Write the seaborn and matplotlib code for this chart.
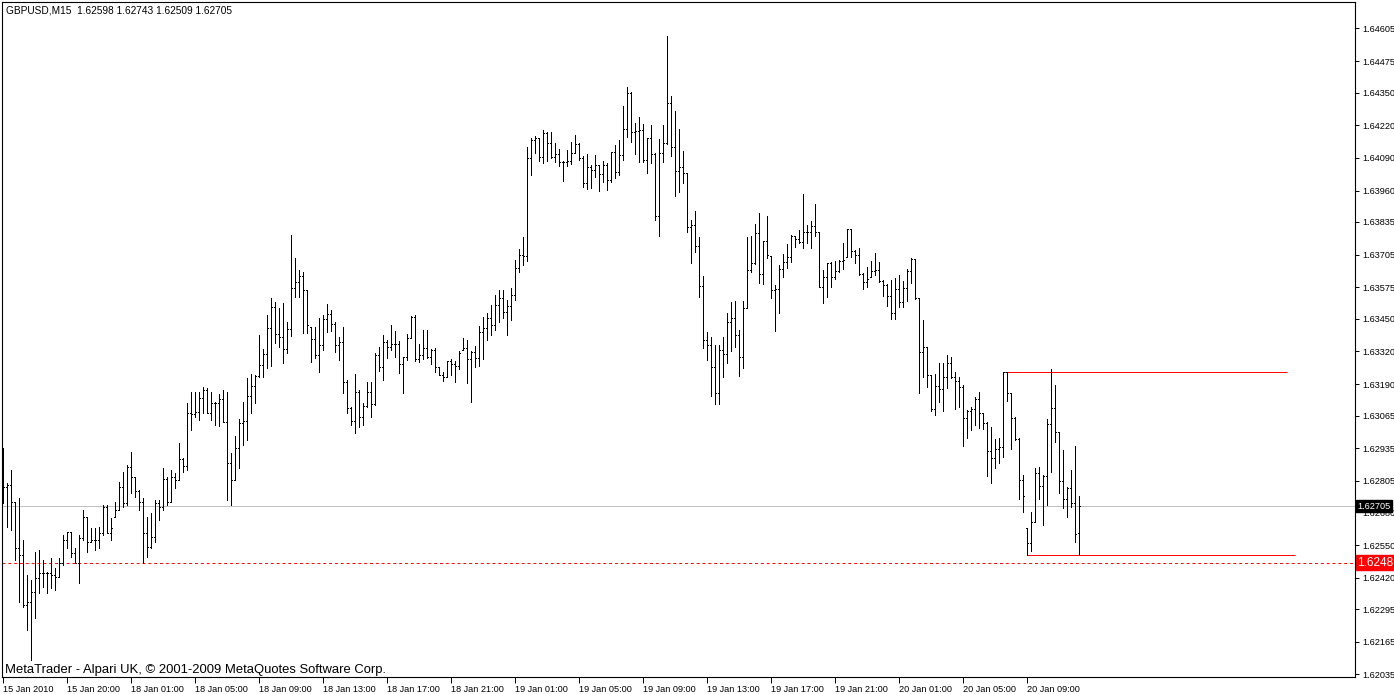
import numpy as np
import pandas as pd
import matplotlib
matplotlib.use("Agg")
import matplotlib.pyplot as plt
import matplotlib.transforms as mtransforms
import seaborn as sns

# ---------------- data (GBPUSD M15, 270 bars) ----------------
opens = [
    1.62848, 1.62781, 1.62789, 1.62721, 1.62538, 1.62510, 1.62311, 1.62323, 1.62363, 1.62419,
    1.62439, 1.62439, 1.62439, 1.62431, 1.62423, 1.62478, 1.62570, 1.62602, 1.62518, 1.62478,
    1.62578, 1.62661, 1.62562, 1.62570, 1.62570, 1.62598, 1.62701, 1.62598, 1.62661, 1.62689,
    1.62781, 1.62717, 1.62860, 1.62820, 1.62765, 1.62721, 1.62598, 1.62542, 1.62582, 1.62717,
    1.62701, 1.62813, 1.62721, 1.62820, 1.62809, 1.62892, 1.62864, 1.63075, 1.63071, 1.63079,
    1.63135, 1.63167, 1.63075, 1.63115, 1.63115, 1.63131, 1.63039, 1.62876, 1.62809, 1.62936,
    1.63035, 1.63043, 1.63143, 1.63182, 1.63222, 1.63266, 1.63310, 1.63413, 1.63497, 1.63389,
    1.63377, 1.63330, 1.63409, 1.63572, 1.63596, 1.63620, 1.63564, 1.63417, 1.63369, 1.63306,
    1.63346, 1.63449, 1.63469, 1.63429, 1.63346, 1.63357, 1.63198, 1.63095, 1.63043, 1.63159,
    1.63059, 1.63103, 1.63159, 1.63111, 1.63306, 1.63258, 1.63357, 1.63338, 1.63350, 1.63350,
    1.63270, 1.63298, 1.63373, 1.63457, 1.63290, 1.63306, 1.63334, 1.63298, 1.63326, 1.63258,
    1.63226, 1.63218, 1.63282, 1.63270, 1.63262, 1.63326, 1.63334, 1.63290, 1.63318, 1.63294,
    1.63397, 1.63413, 1.63453, 1.63425, 1.63505, 1.63533, 1.63477, 1.63501, 1.63545, 1.63652,
    1.63704, 1.63700, 1.64089, 1.64161, 1.64169, 1.64093, 1.64189, 1.64149, 1.64093, 1.64105,
    1.64074, 1.64074, 1.64078, 1.64109, 1.64145, 1.64089, 1.63990, 1.64054, 1.64042, 1.64062,
    1.64026, 1.64062, 1.64002, 1.64113, 1.64034, 1.64101, 1.64205, 1.64348, 1.64193, 1.64197,
    1.64201, 1.64082, 1.64169, 1.64105, 1.63859, 1.64109, 1.64149, 1.64308, 1.64133, 1.64038,
    1.64054, 1.64030, 1.63815, 1.63823, 1.63740, 1.63580, 1.63365, 1.63346, 1.63258, 1.63155,
    1.63326, 1.63310, 1.63437, 1.63453, 1.63385, 1.63298, 1.63493, 1.63644, 1.63672, 1.63791,
    1.63628, 1.63759, 1.63700, 1.63564, 1.63568, 1.63648, 1.63676, 1.63696, 1.63779, 1.63767,
    1.63755, 1.63795, 1.63795, 1.63819, 1.63795, 1.63576, 1.63616, 1.63672, 1.63616, 1.63640,
    1.63680, 1.63696, 1.63807, 1.63720, 1.63704, 1.63628, 1.63596, 1.63616, 1.63640, 1.63644,
    1.63600, 1.63584, 1.63541, 1.63473, 1.63568, 1.63517, 1.63572, 1.63640, 1.63688, 1.63533,
    1.63318, 1.63338, 1.63226, 1.63091, 1.63182, 1.63171, 1.63218, 1.63274, 1.63218, 1.63202,
    1.63179, 1.63055, 1.63083, 1.63091, 1.63131, 1.63075, 1.63035, 1.62924, 1.62896, 1.62932,
    1.62940, 1.63238, 1.63155, 1.63055, 1.62972, 1.62809, 1.62618, 1.62558, 1.62641, 1.62836,
    1.62785, 1.62824, 1.63031, 1.63095, 1.62999, 1.62805, 1.62733, 1.62777, 1.62717, 1.62598,
]
highs = [
    1.62936, 1.62797, 1.62848, 1.62721, 1.62737, 1.62570, 1.62431, 1.62411, 1.62522, 1.62530,
    1.62490, 1.62443, 1.62498, 1.62458, 1.62498, 1.62590, 1.62602, 1.62602, 1.62538, 1.62590,
    1.62689, 1.62661, 1.62618, 1.62618, 1.62622, 1.62709, 1.62709, 1.62657, 1.62721, 1.62801,
    1.62840, 1.62868, 1.62920, 1.62820, 1.62769, 1.62737, 1.62661, 1.62677, 1.62729, 1.62729,
    1.62856, 1.62820, 1.62848, 1.62836, 1.62956, 1.62896, 1.63115, 1.63159, 1.63159, 1.63159,
    1.63179, 1.63174, 1.63159, 1.63119, 1.63151, 1.63167, 1.63159, 1.62916, 1.62984, 1.63051,
    1.63119, 1.63214, 1.63230, 1.63226, 1.63385, 1.63330, 1.63465, 1.63533, 1.63517, 1.63493,
    1.63513, 1.63437, 1.63783, 1.63692, 1.63644, 1.63636, 1.63564, 1.63417, 1.63417, 1.63453,
    1.63465, 1.63509, 1.63485, 1.63437, 1.63377, 1.63417, 1.63206, 1.63099, 1.63230, 1.63167,
    1.63115, 1.63198, 1.63198, 1.63314, 1.63338, 1.63385, 1.63365, 1.63425, 1.63401, 1.63361,
    1.63298, 1.63389, 1.63461, 1.63465, 1.63350, 1.63405, 1.63405, 1.63330, 1.63334, 1.63258,
    1.63238, 1.63282, 1.63290, 1.63282, 1.63322, 1.63373, 1.63365, 1.63322, 1.63342, 1.63421,
    1.63457, 1.63473, 1.63505, 1.63545, 1.63564, 1.63564, 1.63525, 1.63572, 1.63684, 1.63727,
    1.63775, 1.64133, 1.64169, 1.64177, 1.64169, 1.64201, 1.64193, 1.64193, 1.64149, 1.64125,
    1.64078, 1.64121, 1.64153, 1.64181, 1.64149, 1.64097, 1.64105, 1.64062, 1.64101, 1.64062,
    1.64078, 1.64070, 1.64113, 1.64141, 1.64161, 1.64296, 1.64372, 1.64352, 1.64229, 1.64253,
    1.64225, 1.64169, 1.64221, 1.64109, 1.64165, 1.64221, 1.64575, 1.64336, 1.64276, 1.64205,
    1.64117, 1.64030, 1.63843, 1.63879, 1.63775, 1.63620, 1.63397, 1.63377, 1.63346, 1.63346,
    1.63377, 1.63473, 1.63517, 1.63521, 1.63405, 1.63521, 1.63775, 1.63779, 1.63827, 1.63871,
    1.63759, 1.63859, 1.63700, 1.63584, 1.63664, 1.63708, 1.63747, 1.63783, 1.63779, 1.63803,
    1.63946, 1.63823, 1.63839, 1.63906, 1.63795, 1.63644, 1.63672, 1.63676, 1.63680, 1.63684,
    1.63751, 1.63807, 1.63807, 1.63723, 1.63731, 1.63632, 1.63656, 1.63680, 1.63712, 1.63676,
    1.63604, 1.63588, 1.63604, 1.63612, 1.63624, 1.63600, 1.63648, 1.63692, 1.63688, 1.63533,
    1.63445, 1.63338, 1.63226, 1.63230, 1.63274, 1.63274, 1.63306, 1.63298, 1.63238, 1.63218,
    1.63186, 1.63087, 1.63099, 1.63139, 1.63159, 1.63075, 1.63039, 1.63019, 1.62972, 1.62976,
    1.63238, 1.63238, 1.63155, 1.63059, 1.62976, 1.62828, 1.62618, 1.62681, 1.62856, 1.62860,
    1.62828, 1.63051, 1.63250, 1.63186, 1.62999, 1.62928, 1.62781, 1.62848, 1.62944, 1.62743,
]
lows = [
    1.62717, 1.62622, 1.62610, 1.62490, 1.62323, 1.62303, 1.62212, 1.62093, 1.62260, 1.62359,
    1.62383, 1.62359, 1.62379, 1.62371, 1.62423, 1.62470, 1.62538, 1.62502, 1.62478, 1.62399,
    1.62570, 1.62522, 1.62562, 1.62530, 1.62538, 1.62590, 1.62598, 1.62570, 1.62661, 1.62689,
    1.62701, 1.62709, 1.62757, 1.62741, 1.62689, 1.62478, 1.62502, 1.62538, 1.62562, 1.62649,
    1.62689, 1.62709, 1.62721, 1.62777, 1.62809, 1.62840, 1.62848, 1.63007, 1.63059, 1.63047,
    1.63075, 1.63075, 1.63047, 1.63027, 1.63023, 1.63039, 1.62729, 1.62709, 1.62809, 1.62856,
    1.62948, 1.62968, 1.63075, 1.63115, 1.63218, 1.63218, 1.63254, 1.63262, 1.63354, 1.63338,
    1.63274, 1.63314, 1.63381, 1.63537, 1.63537, 1.63393, 1.63393, 1.63278, 1.63294, 1.63238,
    1.63326, 1.63397, 1.63401, 1.63318, 1.63286, 1.63155, 1.63075, 1.63027, 1.62996, 1.63019,
    1.63027, 1.63099, 1.63059, 1.63107, 1.63242, 1.63206, 1.63294, 1.63326, 1.63298, 1.63234,
    1.63155, 1.63286, 1.63373, 1.63282, 1.63278, 1.63290, 1.63294, 1.63270, 1.63238, 1.63226,
    1.63202, 1.63218, 1.63226, 1.63198, 1.63250, 1.63326, 1.63194, 1.63119, 1.63258, 1.63262,
    1.63290, 1.63365, 1.63385, 1.63405, 1.63437, 1.63453, 1.63385, 1.63445, 1.63525, 1.63636,
    1.63664, 1.63680, 1.64022, 1.64109, 1.64078, 1.64070, 1.64078, 1.64090, 1.64074, 1.64058,
    1.63998, 1.64058, 1.64066, 1.64109, 1.64082, 1.63974, 1.63966, 1.63970, 1.64014, 1.63958,
    1.63994, 1.63962, 1.63994, 1.64010, 1.64022, 1.64082, 1.64173, 1.64153, 1.64105, 1.64074,
    1.64074, 1.64030, 1.64070, 1.63843, 1.63779, 1.64074, 1.64145, 1.64097, 1.63938, 1.63954,
    1.63990, 1.63795, 1.63672, 1.63716, 1.63537, 1.63334, 1.63286, 1.63143, 1.63111, 1.63111,
    1.63218, 1.63274, 1.63322, 1.63338, 1.63222, 1.63254, 1.63493, 1.63636, 1.63668, 1.63592,
    1.63588, 1.63692, 1.63533, 1.63401, 1.63473, 1.63616, 1.63652, 1.63676, 1.63735, 1.63751,
    1.63731, 1.63751, 1.63731, 1.63779, 1.63576, 1.63513, 1.63537, 1.63576, 1.63608, 1.63636,
    1.63648, 1.63696, 1.63696, 1.63672, 1.63624, 1.63568, 1.63576, 1.63616, 1.63624, 1.63596,
    1.63541, 1.63501, 1.63449, 1.63449, 1.63497, 1.63497, 1.63521, 1.63592, 1.63529, 1.63155,
    1.63218, 1.63179, 1.63083, 1.63067, 1.63119, 1.63083, 1.63175, 1.63214, 1.63091, 1.63099,
    1.62944, 1.62976, 1.63007, 1.63027, 1.63015, 1.63011, 1.62824, 1.62797, 1.62856, 1.62876,
    1.62900, 1.63123, 1.62932, 1.62968, 1.62733, 1.62681, 1.62510, 1.62526, 1.62641, 1.62733,
    1.62630, 1.62709, 1.62840, 1.62960, 1.62757, 1.62697, 1.62661, 1.62701, 1.62562, 1.62509,
]
closes = [
    1.62781, 1.62789, 1.62721, 1.62538, 1.62510, 1.62311, 1.62323, 1.62363, 1.62419, 1.62439,
    1.62439, 1.62439, 1.62431, 1.62423, 1.62478, 1.62570, 1.62602, 1.62518, 1.62478, 1.62578,
    1.62661, 1.62562, 1.62570, 1.62570, 1.62598, 1.62701, 1.62598, 1.62618, 1.62689, 1.62781,
    1.62717, 1.62860, 1.62820, 1.62765, 1.62721, 1.62598, 1.62542, 1.62582, 1.62717, 1.62701,
    1.62813, 1.62721, 1.62820, 1.62809, 1.62892, 1.62864, 1.63075, 1.63071, 1.63079, 1.63135,
    1.63167, 1.63075, 1.63115, 1.63115, 1.63131, 1.63039, 1.62876, 1.62809, 1.62936, 1.63035,
    1.63043, 1.63143, 1.63182, 1.63222, 1.63266, 1.63310, 1.63413, 1.63497, 1.63389, 1.63377,
    1.63330, 1.63409, 1.63572, 1.63596, 1.63620, 1.63564, 1.63425, 1.63369, 1.63306, 1.63346,
    1.63449, 1.63469, 1.63429, 1.63346, 1.63357, 1.63198, 1.63095, 1.63043, 1.63159, 1.63059,
    1.63103, 1.63159, 1.63111, 1.63306, 1.63258, 1.63357, 1.63338, 1.63350, 1.63350, 1.63270,
    1.63298, 1.63373, 1.63457, 1.63290, 1.63306, 1.63334, 1.63298, 1.63326, 1.63258, 1.63226,
    1.63218, 1.63282, 1.63270, 1.63262, 1.63314, 1.63334, 1.63290, 1.63318, 1.63294, 1.63397,
    1.63413, 1.63453, 1.63425, 1.63505, 1.63533, 1.63477, 1.63501, 1.63545, 1.63652, 1.63704,
    1.63700, 1.64089, 1.64161, 1.64169, 1.64093, 1.64189, 1.64149, 1.64093, 1.64105, 1.64074,
    1.64074, 1.64078, 1.64109, 1.64145, 1.64089, 1.63990, 1.64054, 1.64042, 1.64062, 1.64026,
    1.64062, 1.64002, 1.64113, 1.64034, 1.64101, 1.64205, 1.64348, 1.64193, 1.64197, 1.64201,
    1.64082, 1.64169, 1.64105, 1.63859, 1.64109, 1.64149, 1.64308, 1.64133, 1.64038, 1.64054,
    1.64030, 1.63815, 1.63823, 1.63740, 1.63580, 1.63365, 1.63346, 1.63258, 1.63155, 1.63326,
    1.63310, 1.63437, 1.63453, 1.63385, 1.63298, 1.63493, 1.63644, 1.63672, 1.63791, 1.63628,
    1.63759, 1.63704, 1.63564, 1.63568, 1.63648, 1.63676, 1.63696, 1.63779, 1.63767, 1.63755,
    1.63795, 1.63795, 1.63819, 1.63795, 1.63576, 1.63616, 1.63672, 1.63616, 1.63640, 1.63680,
    1.63684, 1.63807, 1.63720, 1.63704, 1.63628, 1.63596, 1.63608, 1.63640, 1.63644, 1.63600,
    1.63584, 1.63541, 1.63473, 1.63568, 1.63517, 1.63572, 1.63640, 1.63688, 1.63533, 1.63318,
    1.63338, 1.63226, 1.63091, 1.63182, 1.63171, 1.63218, 1.63274, 1.63218, 1.63202, 1.63179,
    1.63055, 1.63083, 1.63091, 1.63131, 1.63075, 1.63035, 1.62924, 1.62896, 1.62932, 1.62940,
    1.63238, 1.63155, 1.63055, 1.62972, 1.62809, 1.62745, 1.62558, 1.62641, 1.62836, 1.62785,
    1.62824, 1.63031, 1.63095, 1.62999, 1.62805, 1.62733, 1.62777, 1.62717, 1.62594, 1.62705,
]

time_labels = ["15 Jan 2010", "15 Jan 20:00", "18 Jan 01:00", "18 Jan 05:00", "18 Jan 09:00",
               "18 Jan 13:00", "18 Jan 17:00", "18 Jan 21:00", "19 Jan 01:00", "19 Jan 05:00",
               "19 Jan 09:00", "19 Jan 13:00", "19 Jan 17:00", "19 Jan 21:00", "20 Jan 01:00",
               "20 Jan 05:00", "20 Jan 09:00"]
time_label_bars = [0, 16, 32, 48, 64, 80, 96, 112, 128, 144, 160, 176, 192, 208, 224, 240, 256]
price_ticks = [1.64605, 1.64475, 1.64350, 1.64220, 1.64090, 1.63960, 1.63835, 1.63705,
               1.63575, 1.63450, 1.63320, 1.63190, 1.63065, 1.62935, 1.62805, 1.62680,
               1.62550, 1.62420, 1.62295, 1.62165, 1.62035]
bid_price = 1.62705
alert_price = 1.62480
range_top = 1.63240
range_bottom = 1.62509
range_top_bars = [250, 321]
range_bottom_bars = [256, 323]
title_text = "GBPUSD,M15  1.62598 1.62743 1.62509 1.62705"
footer_text = "MetaTrader - Alpari UK, \u00a9 2001-2009 MetaQuotes Software Corp."

df = pd.DataFrame({"open": opens, "high": highs, "low": lows, "close": closes})
df["bar"] = np.arange(len(df))

# ---------------- figure ----------------
sns.set_theme(style="white")
plt.rcParams['font.family'] = ['Liberation Sans', 'DejaVu Sans']

W, H = 1394, 694
fig = plt.figure(figsize=(W / 100, H / 100), dpi=100, facecolor="white")
ax = fig.add_axes([2 / W, 17 / H, 1353 / W, 675 / H])
ax.set_facecolor("white")

ax.set_xlim(-0.25, 338.0)
ax.set_ylim(1.62025, 1.64710)

lw = 0.5
ax.vlines(df["bar"], df["low"], df["high"], color="black", lw=lw, antialiased=False, zorder=3)
ax.hlines(df["open"], df["bar"] - 0.3, df["bar"], color="black", lw=lw, antialiased=False, zorder=3)
ax.hlines(df["close"], df["bar"], df["bar"] + 0.3, color="black", lw=lw, antialiased=False, zorder=3)

# reference lines
ax.axhline(bid_price, color="#c0c0c0", lw=0.7, zorder=1)
ax.axhline(alert_price, color="#ff0000", lw=0.7, ls=(0, (3, 3)), zorder=1)
ax.hlines(range_top, range_top_bars[0], range_top_bars[1], color="#ff0000", lw=0.7, zorder=2)
ax.hlines(range_bottom, range_bottom_bars[0], range_bottom_bars[1], color="#ff0000", lw=0.7, zorder=2)

# axes styling
for s in ax.spines.values():
    s.set_visible(True)
    s.set_color("black")
    s.set_linewidth(0.8)

ax.yaxis.tick_right()
ax.set_yticks(price_ticks)
ax.set_yticklabels([f"{v:.5f}" for v in price_ticks])
ax.tick_params(axis="y", which="both", direction="out", length=3, width=0.7,
               color="black", labelsize=6.6, pad=2, labelcolor="black")

ax.set_xticks(time_label_bars)
ax.set_xticklabels(time_labels, ha="left")
ax.tick_params(axis="x", which="both", direction="out", length=4, width=0.7,
               color="black", labelsize=6.6, pad=1.5, labelcolor="black",
               bottom=True, top=False)
ax.grid(False)

# price label boxes on the right scale
trans = mtransforms.blended_transform_factory(ax.transAxes, ax.transData)
ax.text(1.0015, bid_price, "1.62705", transform=trans, ha="left", va="center",
        fontsize=6.6, color="white", clip_on=False, zorder=10,
        bbox=dict(boxstyle="square,pad=0.15", facecolor="black", edgecolor="black"))
ax.text(1.0015, alert_price, "1.6248", transform=trans, ha="left", va="center",
        fontsize=8.5, color="white", clip_on=False, zorder=10,
        bbox=dict(boxstyle="square,pad=0.12", facecolor="#ff0000", edgecolor="#ff0000"))

# texts
ax.text(0.003, 0.988, title_text, transform=ax.transAxes, ha="left", va="center",
        fontsize=7.3, color="black")
ax.text(0.002, 0.011, footer_text, transform=ax.transAxes, ha="left", va="center",
        fontsize=9.4, color="black")

fig.savefig("out.png", dpi=100, facecolor="white")
